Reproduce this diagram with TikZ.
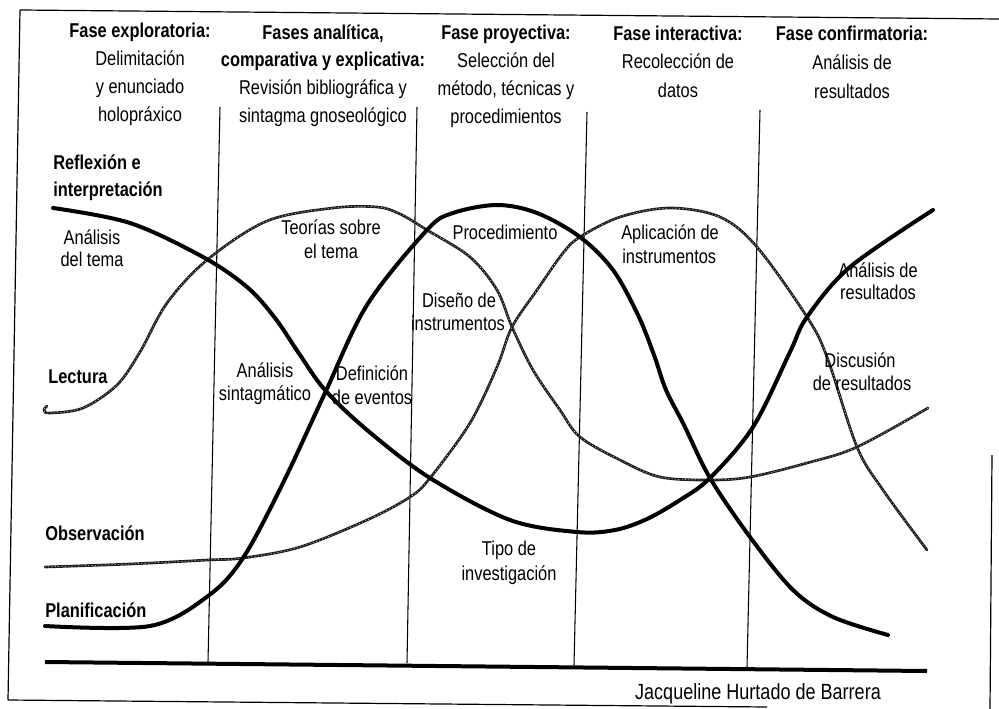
\documentclass[tikz,border=0pt]{standalone}
\usepackage{fontspec}
\setmainfont{Liberation Sans}[FakeStretch=0.82]
\begin{document}
\begin{tikzpicture}[x=0.75pt,y=-0.75pt,
  font=\fontsize{15}{21}\selectfont,
  lbl/.style={anchor=base,inner sep=0pt},
  lblw/.style={anchor=base west,inner sep=0pt},
  hdr/.style={lbl,font=\fontsize{15}{21}\selectfont\bfseries},
  hdrw/.style={lblw,font=\fontsize{15}{21}\selectfont\bfseries},
  framepart/.style={line width=0.9pt},
  phaseline/.style={line width=0.8pt},
  axisline/.style={line width=3pt},
  thickcurve/.style={line width=3pt,line cap=round,line join=round},
  hatchcurve/.style={draw=black!88,line width=2pt,line cap=round,line join=round,
     postaction={draw=white,line width=0.35pt,dash pattern=on 0.5pt off 2pt}}
]
\useasboundingbox (0,0) rectangle (999,709);
% frame
\draw[framepart] (20,10) -- (999,19);
\draw[framepart] (20,10) -- (8,700);
\draw[framepart] (8,700) -- (767,707);
\draw[framepart] (992,455) -- (990,709);
% phase lines
\coordinate (v1t) at (220,107); \coordinate (v1b) at (208,662);
\coordinate (v2t) at (417,107); \coordinate (v2b) at (407,663);
\coordinate (v3t) at (587,112); \coordinate (v3b) at (574,665);
\coordinate (v4t) at (760,110); \coordinate (v4b) at (747,667);
\draw[phaseline] (v1t) -- (v1b);
\draw[phaseline] (v2t) -- (v2b);
\draw[phaseline] (v3t) -- (v3b);
\draw[phaseline] (v4t) -- (v4b);
% axis
\coordinate (axl) at (45,662); \coordinate (axr) at (927,671);
\draw[axisline] (axl) -- (axr);
% Lectura (hatched)
\draw[hatchcurve] plot[smooth,tension=0.55] coordinates {
 (47,406) (44,410) (50,413) (83,408) (117,385) (140,352) (167,303) (207,260)
 (267,221) (333,208) (377,207) (400,214) (427,230) (470,257) (497,290) (512,327)
 (533,370) (560,410) (580,437) (620,460) (660,477) (710,480) (750,477)
 (807,463) (857,447) (928,408)};
% Observacion (hatched)
\draw[hatchcurve] plot[smooth,tension=0.55] coordinates {
 (45,567) (130,564) (208,560) (243,558) (300,547) (367,520) (410,497) (430,478)
 (470,423) (497,367) (512,327) (537,290) (563,253) (580,237) (620,217) (670,208)
 (720,217) (757,247) (807,317) (827,357) (857,447) (883,490) (927,550)};
% Planificacion (thick)
\draw[thickcurve] plot[smooth,tension=0.55] coordinates {
 (45,626) (150,626) (208,596) (243,558) (283,483) (325,393) (367,305) (427,230)
 (453,213) (497,205) (537,213) (580,237) (613,270) (638,315) (654,355) (666,390)
 (684,425) (710,478) (750,537) (793,590) (833,617) (888,635)};
% Reflexion e interpretacion (thick)
\draw[thickcurve] plot[smooth,tension=0.55] coordinates {
 (53,208) (130,223) (203,257) (247,287) (275,318) (300,355) (325,390) (367,430)
 (430,478) (510,520) (577,532) (615,530) (647,519) (680,500) (710,478) (753,427)
 (790,352) (807,317) (850,267) (933,210)};
% headers
\node[hdr] (h1a) at (140,38) {Fase exploratoria:};
\node[lbl] (h1b) at (140,66) {Delimitación};
\node[lbl] (h1c) at (140,94) {y enunciado};
\node[lbl] (h1d) at (140,122) {holopráxico};
\node[hdr] (h2a) at (323,40) {Fases analítica,};
\node[hdr] (h2b) at (323,67) {comparativa y explicativa:};
\node[lbl] (h2c) at (323,95) {Revisión bibliográfica y};
\node[lbl] (h2d) at (323,123) {sintagma gnoseológico};
\node[hdr] (h3a) at (506,40) {Fase proyectiva:};
\node[lbl] (h3b) at (506,68) {Selección del};
\node[lbl] (h3c) at (506,96) {método, técnicas y};
\node[lbl] (h3d) at (506,124) {procedimientos};
\node[hdr] (h4a) at (678,41) {Fase interactiva:};
\node[lbl] (h4b) at (678,69) {Recolección de};
\node[lbl] (h4c) at (678,98) {datos};
\node[hdr] (h5a) at (852,41) {Fase confirmatoria:};
\node[lbl] (h5b) at (852,70) {Análisis de};
\node[lbl] (h5c) at (852,99) {resultados};
% left labels
\node[hdrw] (rfa) at (53,170) {Reflexión e};
\node[hdrw] (rfb) at (53,197) {interpretación};
\node[hdrw] (lec) at (48,383) {Lectura};
\node[hdrw] (obs) at (45,540) {Observación};
\node[hdrw] (pla) at (45,617) {Planificación};
% curve labels
\node[lbl] (at1) at (92,245) {Análisis};
\node[lbl] (at2) at (92,267) {del tema};
\node[lbl] (ts1) at (331,235) {Teorías sobre};
\node[lbl] (ts2) at (331,258) {el tema};
\node[lbl] (pro) at (505,240) {Procedimiento};
\node[lblw] (ap1) at (621,240) {Aplicación de};
\node[lblw] (ap2) at (622,263) {instrumentos};
\node[lbl] (di1) at (459,307) {Diseño de};
\node[lbl] (di2) at (458,330) {instrumentos};
\node[lbl] (ar1) at (878,277) {Análisis de};
\node[lbl] (ar2) at (878,299) {resultados};
\node[lbl] (dr1) at (860,367) {Discusión};
\node[lbl] (dr2) at (862,390) {de resultados};
\node[lbl] (de1) at (372,380) {Definición};
\node[lbl] (de2) at (372,404) {de eventos};
\node[lbl] (as1) at (265,377) {Análisis};
\node[lbl] (as2) at (265,400) {sintagmático};
\node[lbl] (ti1) at (509,555) {Tipo de};
\node[lbl] (ti2) at (509,580) {investigación};
\node[lbl,font=\fontsize{16.5}{18}\selectfont] (aut) at (758,699) {Jacqueline Hurtado de Barrera};
\end{tikzpicture}
\end{document}
